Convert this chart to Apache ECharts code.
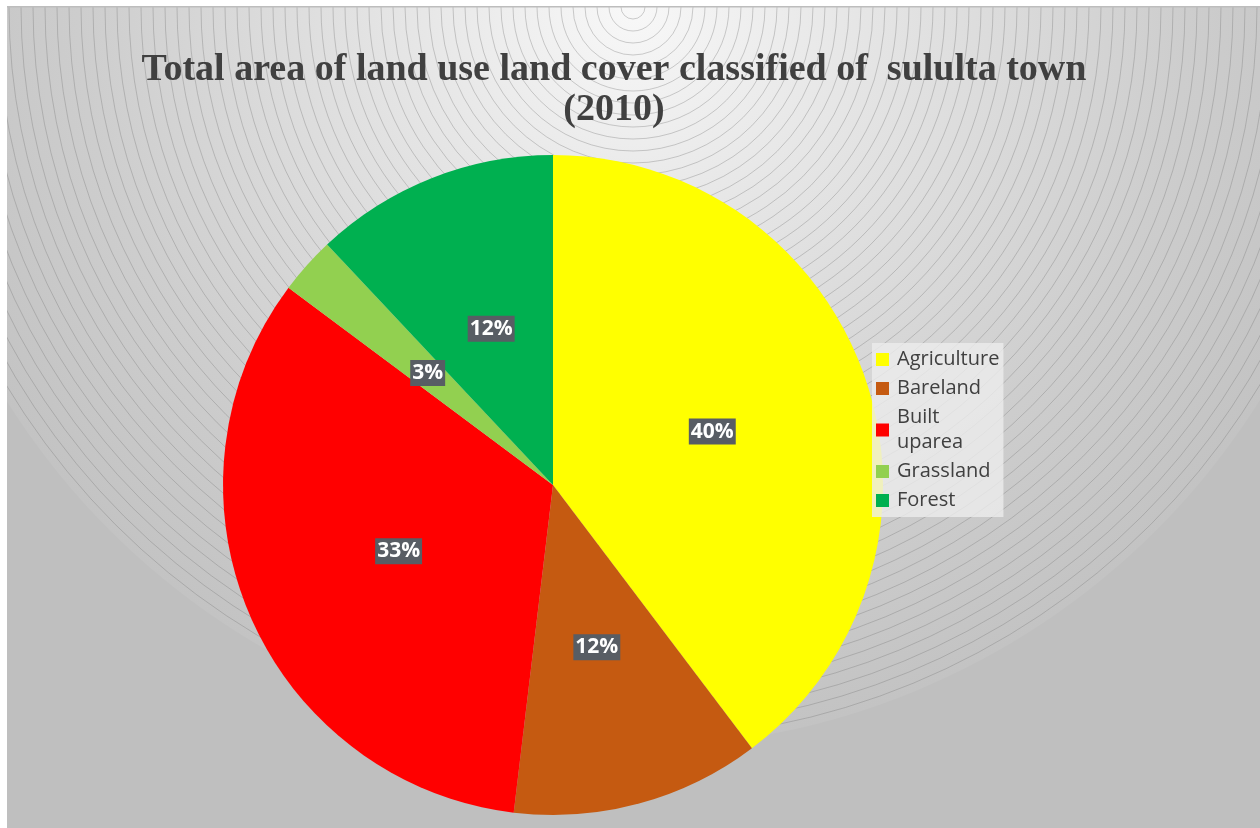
<!DOCTYPE html>
<html>
<head>
<meta charset="utf-8">
<script src="https://cdn.jsdelivr.net/npm/echarts@6/dist/echarts.min.js"></script>
<style>
  html, body { margin: 0; padding: 0; background: #ffffff; }
  #chart { width: 1260px; height: 828px; }
</style>
</head>
<body>
<div id="chart"></div>
<script>
// Land use / land cover classes of Sululta town, 2010 (share of total area, %)
const categories = ['Agriculture', 'Bareland', 'Built uparea', 'Grassland', 'Forest'];
const areaShare = [39.7, 12.2, 33.3, 2.8, 12.0];
const classColors = ['#FFFF00', '#C55A11', '#FF0000', '#92D050', '#00B050'];

const titleText = 'Total area of land use land cover classified of  sululta town\n(2010)';

// Backdrop: radial shading with fine concentric rings spreading from the top edge
const ringCx = 633, ringCy = 7, ringOuter = 740;
const backdrop = [
  { type: 'rect', z: -10, shape: { x: 7, y: 7, width: 1253, height: 821 }, style: { fill: '#bfbfbf' } },
  {
    type: 'circle', z: -9,
    shape: { cx: ringCx, cy: ringCy, r: ringOuter },
    style: {
      fill: new echarts.graphic.RadialGradient(0.5, 0.5, 0.5, [
        { offset: 0, color: '#f8f8f8' },
        { offset: 0.3, color: '#e6e6e6' },
        { offset: 0.75, color: '#cdcdcd' },
        { offset: 1, color: '#c3c3c3' }
      ])
    }
  }
];
for (let r = 12; r <= ringOuter; r += 12) {
  backdrop.push({
    type: 'circle', z: -8, silent: true,
    shape: { cx: ringCx, cy: ringCy, r: r },
    style: { fill: 'none', stroke: 'rgba(120,120,120,0.6)', lineWidth: 0.6 }
  });
}
// white page margins and the frame line along the top
backdrop.push(
  { type: 'rect', z: -7, shape: { x: 0, y: 0, width: 1260, height: 6 }, style: { fill: '#ffffff' } },
  { type: 'rect', z: -7, shape: { x: 0, y: 0, width: 7, height: 828 }, style: { fill: '#ffffff' } },
  { type: 'rect', z: -7, shape: { x: 7, y: 6, width: 1253, height: 1.5 }, style: { fill: '#bdbdbd' } }
);

const chart = echarts.init(document.getElementById('chart'), null, { renderer: 'canvas' });
chart.setOption({
  animation: false,
  backgroundColor: '#ffffff',
  graphic: { elements: backdrop },
  title: {
    text: titleText,
    left: 609,
    top: 45,
    textAlign: 'center',
    textStyle: {
      fontFamily: 'Liberation Serif',
      fontWeight: 'bold',
      fontSize: 38,
      lineHeight: 40,
      color: '#404040'
    }
  },
  legend: {
    orient: 'vertical',
    left: 872,
    top: 343,
    padding: [4, 4, 4, 4],
    itemWidth: 13,
    itemHeight: 13,
    itemGap: 4,
    icon: 'rect',
    backgroundColor: 'rgba(236,236,236,0.8)',
    data: categories,
    formatter: name => name.replace(' ', '\n'),
    textStyle: {
      fontFamily: 'Open Sans',
      fontSize: 20,
      lineHeight: 25,
      color: '#404040',
      padding: [0, 0, 0, 3]
    }
  },
  series: [{
    type: 'pie',
    center: [553, 485],
    radius: 330,
    startAngle: 90,
    clockwise: true,
    avoidLabelOverlap: false,
    emphasis: { disabled: true },
    data: categories.map((name, i) => ({
      name: name,
      value: areaShare[i],
      itemStyle: { color: classColors[i] }
    })),
    label: {
      show: true,
      position: 'inside',
      formatter: p => Math.round(p.percent) + '%',
      fontFamily: 'Open Sans',
      fontWeight: 'bold',
      fontSize: 21,
      lineHeight: 25,
      color: '#ffffff',
      backgroundColor: '#585d64',
      padding: [1, 2, 0, 2]
    },
    labelLine: { show: false }
  }]
});
</script>
</body>
</html>
